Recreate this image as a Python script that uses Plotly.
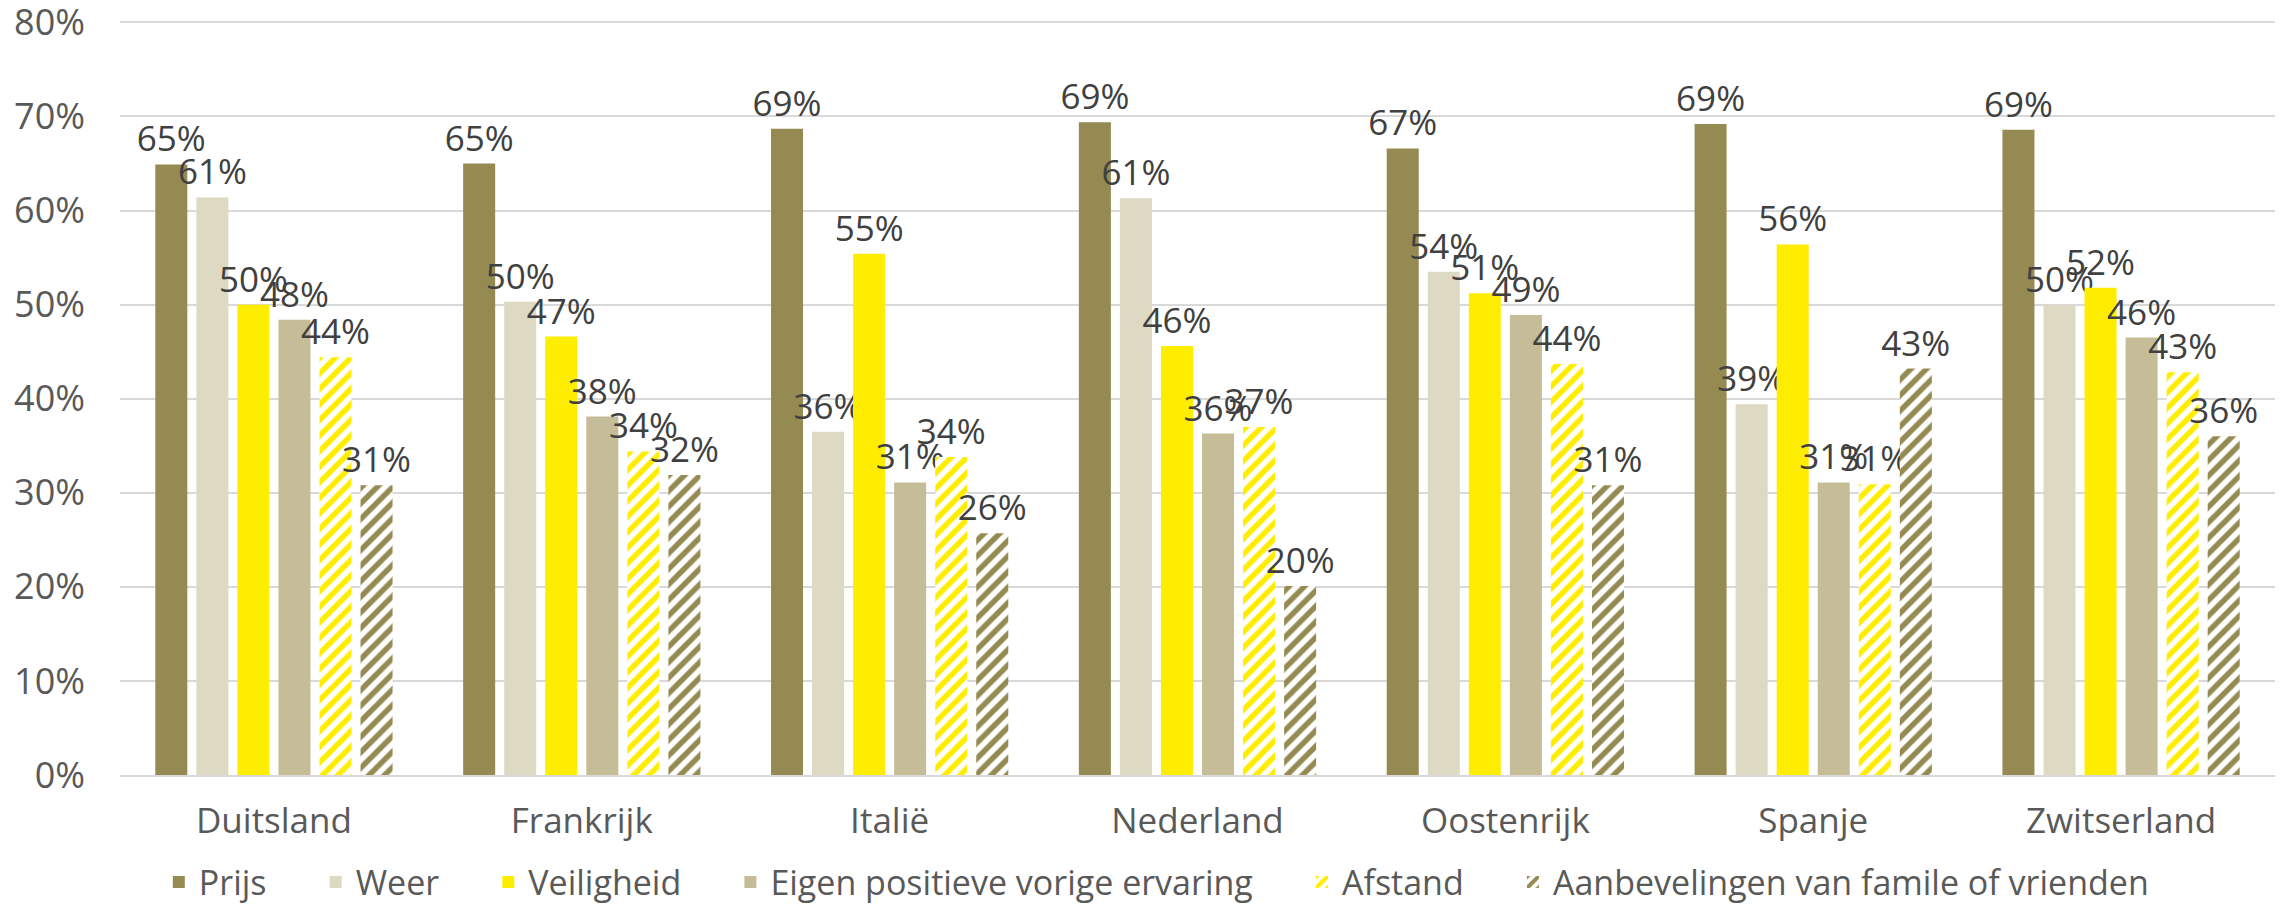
import plotly.graph_objects as go

# countries on the x axis
landen = ["Duitsland", "Frankrijk", "Italië", "Nederland", "Oostenrijk", "Spanje", "Zwitserland"]

# share (%) per motive, one value per country
prijs = [64.9, 65.0, 68.7, 69.4, 66.6, 69.2, 68.6]
weer = [61.4, 50.3, 36.5, 61.3, 53.5, 39.4, 50.0]
veiligheid = [50.0, 46.6, 55.4, 45.6, 51.2, 56.4, 51.8]
eigen_ervaring = [48.4, 38.1, 31.1, 36.3, 48.9, 31.1, 46.5]
afstand = [44.4, 34.4, 33.8, 37.0, 43.7, 30.9, 42.8]
aanbevelingen = [30.8, 31.9, 25.7, 20.1, 30.8, 43.2, 36.0]

y_ticks = [0, 10, 20, 30, 40, 50, 60, 70, 80]

series = [
    ("Prijs", prijs, "#958A52", None),
    ("Weer", weer, "#DDD9C3", None),
    ("Veiligheid", veiligheid, "#FFED00", None),
    ("Eigen positieve vorige ervaring", eigen_ervaring, "#C4BD97", None),
    ("Afstand", afstand, "#FFED00", "/"),
    ("Aanbevelingen van famile of vrienden", aanbevelingen, "#958A52", "/"),
]

FONT = "Open Sans"
PAD = "\u00a0" * 5  # extra room between legend entries

fig = go.Figure()
for i, (naam, waarden, kleur, patroon) in enumerate(series):
    if patroon:
        marker = dict(color="white", line=dict(width=0),
                      pattern=dict(shape=patroon, fgcolor=kleur, bgcolor="white",
                                   fgopacity=1, size=11, solidity=0.5))
    else:
        marker = dict(color=kleur, line=dict(width=0))
    fig.add_trace(go.Bar(
        name=naam + (PAD if i < len(series) - 1 else ""),
        x=landen, y=waarden, marker=marker,
        text=[f"{round(v):.0f}%" for v in waarden],
        textposition="outside", constraintext="none", cliponaxis=False,
        textfont=dict(family=FONT, size=35, color="#404040"),
        hoverinfo="x+y",
    ))

# the page body keeps its 8px default margin, so the figure is 16px smaller
fig.update_layout(
    width=2267, height=896,
    template="plotly_white",
    barmode="group", bargap=0.2, bargroupgap=0.22,
    margin=dict(l=112, r=0, t=5, b=129, autoexpand=False),
    font=dict(family=FONT, color="#595959"),
    legend=dict(orientation="h", x=0.018, xanchor="left", y=-0.141, yanchor="middle",
                font=dict(family=FONT, size=34, color="#595959"),
                itemwidth=30, tracegroupgap=0, traceorder="normal"),
    plot_bgcolor="white", paper_bgcolor="white",
)
fig.update_yaxes(
    range=[0, 81], tickvals=y_ticks, ticktext=[f"{v}%" for v in y_ticks],
    showgrid=True, gridcolor="#D9D9D9", gridwidth=2, zeroline=False,
    showline=False, ticklabelstandoff=34, automargin=False,
    ticklabeloverflow="allow",
    tickfont=dict(family=FONT, size=36, color="#595959"),
)
fig.update_xaxes(
    showline=True, linecolor="#D9D9D9", linewidth=2, ticks="",
    ticklabelstandoff=14, automargin=False,
    tickfont=dict(family=FONT, size=35, color="#595959"),
)

fig.write_html("out.html")
